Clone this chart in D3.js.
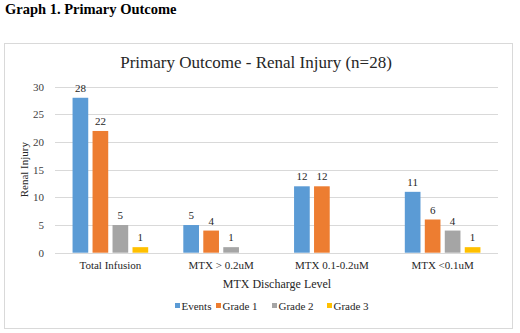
<!DOCTYPE html>
<html>
<head>
<meta charset="utf-8">
<script src="https://cdn.jsdelivr.net/npm/d3@7"></script>
<style>
  body { margin: 0; background: #fff; }
</style>
</head>
<body>
<div class="chart"></div>
<script>
const FONT = "'Liberation Serif', 'Tinos', 'Times New Roman', 'DejaVu Serif', serif";

// categories and series
const categories = ["Total Infusion", "MTX > 0.2uM", "MTX 0.1-0.2uM", "MTX <0.1uM"];
const seriesNames = ["Events", "Grade 1", "Grade 2", "Grade 3"];
const events = [28, 5, 12, 11];
const grade1 = [22, 4, 12, 6];
const grade2 = [5, 1, null, 4];
const grade3 = [1, null, null, 1];
const yTicks = [0, 5, 10, 15, 20, 25, 30];

const colors = ["#5B9BD5", "#ED7D31", "#A5A5A5", "#FFC000"];
const seriesValues = [events, grade1, grade2, grade3];

const data = categories.map((c, i) => ({
    cat: c,
    values: seriesNames.map((s, j) => ({ key: s, value: seriesValues[j][i], color: colors[j] }))
}));

const W = 520, H = 333;
const svg = d3.select(".chart").append("svg")
    .attr("width", W)
    .attr("height", H)
    .attr("font-family", FONT);

// page heading
svg.append("text")
    .attr("x", 5)
    .attr("y", 14)
    .style("font-size", "14.5px")
    .style("font-weight", "bold")
    .attr("fill", "#000")
    .text("Graph 1. Primary Outcome");

// chart frame
svg.append("rect")
    .attr("x", 4.5)
    .attr("y", 43.5)
    .attr("width", 508)
    .attr("height", 285)
    .attr("fill", "#fff")
    .attr("stroke", "#D9D9D9");

// title
svg.append("text")
    .attr("x", 256)
    .attr("y", 68)
    .attr("text-anchor", "middle")
    .style("font-size", "17px")
    .attr("fill", "#262626")
    .text("Primary Outcome - Renal Injury (n=28)");

const plot = { left: 55, right: 498, top: 86.7, bottom: 252.7 };

const y = d3.scaleLinear()
    .domain([0, 30])
    .range([plot.bottom, plot.top]);

const x0 = d3.scaleBand()
    .domain(categories)
    .range([plot.left, plot.right])
    .paddingInner(0.317)
    .paddingOuter(0.1585);

const x1 = d3.scaleBand()
    .domain(seriesNames)
    .range([0, x0.bandwidth()])
    .paddingInner(0.215);

// gridlines
svg.append("g")
    .selectAll("line")
    .data(yTicks)
    .enter().append("line")
    .attr("x1", plot.left)
    .attr("x2", plot.right)
    .attr("y1", d => Math.round(y(d)) + 0.5)
    .attr("y2", d => Math.round(y(d)) + 0.5)
    .attr("stroke", "#D9D9D9");

// y axis labels
const yAxis = svg.append("g")
    .attr("transform", `translate(${plot.left},0)`)
    .call(d3.axisLeft(y).tickValues(yTicks).tickSize(0).tickPadding(11))
    .attr("font-family", FONT);
yAxis.select(".domain").remove();
yAxis.selectAll("text")
    .style("font-size", "11px")
    .attr("fill", "#404040");

// y axis title
svg.append("text")
    .attr("transform", `translate(28,${(plot.top + plot.bottom) / 2}) rotate(-90)`)
    .attr("text-anchor", "middle")
    .style("font-size", "11px")
    .attr("fill", "#262626")
    .text("Renal Injury");

// bars
const groups = svg.append("g")
    .selectAll("g")
    .data(data)
    .enter().append("g")
    .attr("transform", d => `translate(${x0(d.cat)},0)`);

const bars = groups.selectAll("g")
    .data(d => d.values.filter(v => v.value != null))
    .enter().append("g");

bars.append("rect")
    .attr("x", d => x1(d.key))
    .attr("y", d => y(d.value))
    .attr("width", x1.bandwidth())
    .attr("height", d => y(0) - y(d.value))
    .attr("fill", d => d.color);

bars.append("text")
    .attr("x", d => x1(d.key) + x1.bandwidth() / 2)
    .attr("y", d => y(d.value) - 6)
    .attr("text-anchor", "middle")
    .style("font-size", "11px")
    .attr("fill", "#262626")
    .text(d => d.value);

// x axis labels
const xAxis = svg.append("g")
    .attr("transform", `translate(0,${plot.bottom})`)
    .call(d3.axisBottom(x0).tickSize(0).tickPadding(9))
    .attr("font-family", FONT);
xAxis.select(".domain").remove();
xAxis.selectAll("text")
    .style("font-size", "11px")
    .attr("fill", "#262626");

// x axis title
svg.append("text")
    .attr("x", 277)
    .attr("y", 288)
    .attr("text-anchor", "middle")
    .style("font-size", "12px")
    .attr("fill", "#262626")
    .text("MTX Discharge Level");

// legend
const legendX = [175, 216, 272, 327];
const legend = svg.append("g")
    .selectAll("g")
    .data(seriesNames)
    .enter().append("g")
    .attr("transform", (d, i) => `translate(${legendX[i]},306)`);

legend.append("rect")
    .attr("x", 0)
    .attr("y", -3)
    .attr("width", 5)
    .attr("height", 5)
    .attr("fill", (d, i) => colors[i]);

legend.append("text")
    .attr("x", 6.5)
    .attr("y", 3.5)
    .style("font-size", "11px")
    .attr("fill", "#262626")
    .text(d => d);
</script>
</body>
</html>
